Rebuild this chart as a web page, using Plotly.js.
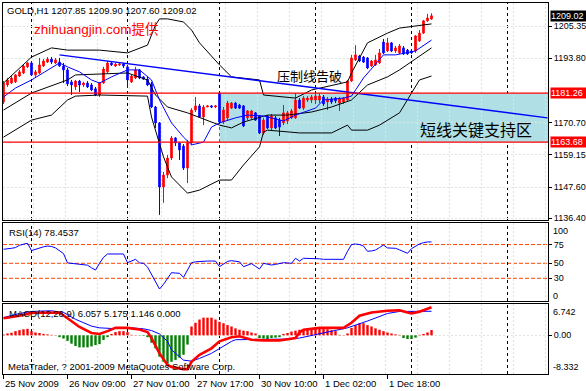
<!DOCTYPE html>
<html><head><meta charset="utf-8">
<script src="https://cdn.plot.ly/plotly-3.0.1.min.js"></script>
<style>html,body{margin:0;padding:0;background:#fff;overflow:hidden}#chart{width:586px;height:391px}</style>
</head><body><div id="chart"></div>
<script>
// ---------------- DATA ----------------
const symbol = 'GOLD,H1';
const open = [
1178.1,1184.2,1184.9,1185.3,1187.4,1188.5,1190.7,1192.1,1187.8,1188.5,
1191.0,1192.4,1193.5,1192.1,1192.4,1191.0,1189.6,1185.3,1183.5,1185.6,
1184.2,1184.9,1184.2,1182.8,1180.6,1184.9,1188.9,1192.1,1191.0,1191.4,
1191.7,1190.7,1185.3,1186.7,1189.6,1187.1,1186.3,1184.6,1176.3,1170.6,
1147.6,1151.9,1158.0,1165.2,1163.4,1162.3,1154.4,1163.4,1175.2,1176.7,
1172.7,1176.3,1176.7,1176.3,1181.3,1170.9,1172.4,1175.9,1177.7,1177.0,
1176.7,1172.4,1172.4,1174.2,1173.1,1167.0,1173.1,1168.8,1172.4,1171.6,
1170.6,1171.3,1172.4,1172.4,1178.8,1175.9,1178.8,1178.8,1178.8,1178.8,
1179.9,1178.1,1179.2,1179.5,1177.7,1178.1,1178.8,1185.6,1193.2,1194.6,
1194.2,1193.9,1191.0,1191.4,1192.1,1199.6,1196.4,1199.3,1196.4,1195.7,
1197.5,1196.7,1196.4,1196.4,1200.0,1202.8,1207.2,1207.85];
const high = [
1185.6,1186.7,1187.4,1188.1,1189.6,1191.4,1192.4,1192.8,1189.6,1193.9,
1193.5,1194.2,1194.2,1193.9,1193.9,1192.1,1190.3,1186.0,1186.0,1186.0,
1185.3,1185.6,1184.9,1183.5,1185.3,1190.7,1192.8,1192.4,1192.1,1192.1,
1192.1,1191.4,1188.1,1190.7,1189.9,1187.4,1187.1,1185.3,1176.7,1170.9,
1153.0,1159.1,1165.9,1165.5,1163.7,1163.0,1164.5,1175.9,1179.9,1177.4,
1177.0,1177.0,1177.0,1177.0,1181.7,1176.3,1178.5,1178.1,1178.1,1177.4,
1177.0,1175.2,1175.2,1174.5,1173.4,1172.4,1173.4,1173.8,1173.1,1172.4,
1177.0,1174.9,1175.6,1181.3,1179.5,1180.2,1180.2,1180.6,1181.3,1181.3,
1180.6,1179.9,1179.9,1179.9,1179.9,1179.9,1186.0,1195.0,1198.5,1195.0,
1194.6,1194.2,1193.2,1195.0,1197.1,1200.7,1201.1,1199.6,1198.2,1198.9,
1198.2,1197.1,1197.1,1202.1,1203.9,1207.5,1209.7,1209.90];
const low = [
1177.4,1183.5,1184.6,1184.9,1187.1,1188.1,1190.3,1187.4,1187.1,1188.1,
1190.7,1192.1,1191.7,1191.7,1190.7,1184.9,1183.8,1180.6,1182.4,1181.7,
1183.5,1183.1,1182.0,1180.2,1179.9,1184.6,1188.5,1191.0,1190.7,1191.0,
1190.3,1183.1,1184.9,1186.3,1186.3,1186.0,1183.8,1175.9,1168.8,1137.6,
1141.9,1150.8,1157.3,1162.3,1157.3,1153.7,1149.0,1162.7,1174.5,1172.4,
1169.8,1176.3,1175.9,1175.9,1170.2,1170.2,1171.3,1175.6,1175.6,1175.6,
1169.1,1171.6,1172.0,1171.3,1166.6,1166.3,1168.4,1168.1,1168.4,1165.9,
1169.8,1170.2,1172.0,1172.0,1175.6,1175.2,1178.1,1177.7,1177.4,1177.7,
1176.7,1175.2,1177.4,1177.7,1174.9,1177.4,1178.5,1185.3,1192.8,1192.4,
1192.1,1189.9,1190.7,1191.0,1191.7,1195.3,1196.0,1196.0,1195.7,1195.3,
1195.0,1195.0,1195.3,1195.7,1199.6,1202.5,1206.8,1207.60];
const close = [
1184.9,1186.0,1186.7,1187.8,1188.9,1191.0,1192.1,1187.8,1188.9,1191.4,
1192.8,1193.5,1192.4,1193.2,1191.0,1189.6,1184.6,1184.2,1185.6,1184.2,
1184.9,1183.5,1182.4,1180.6,1184.9,1189.9,1192.1,1191.4,1191.7,1191.7,
1191.0,1186.0,1187.4,1189.6,1186.7,1186.3,1184.2,1176.3,1170.6,1147.6,
1151.9,1158.0,1165.2,1163.4,1160.9,1154.4,1163.4,1175.2,1176.7,1172.7,
1176.3,1176.7,1176.3,1176.7,1170.9,1175.2,1177.7,1177.7,1175.9,1175.9,
1169.5,1174.9,1174.9,1171.6,1167.0,1171.6,1168.8,1173.1,1168.8,1169.1,
1174.2,1174.2,1174.9,1178.8,1175.9,1179.5,1179.5,1179.9,1180.2,1180.2,
1177.4,1179.2,1178.1,1178.5,1179.2,1179.5,1185.6,1193.9,1195.0,1192.8,
1192.4,1190.3,1192.8,1193.2,1195.7,1195.7,1199.3,1196.4,1197.5,1198.2,
1195.3,1195.3,1195.7,1201.8,1202.8,1207.2,1208.2,1209.02];

// Bollinger bands : bar index / price
const bbUpperX = [0,7,12,16,24,31,36,37,38,39,41,45,47,49,54,57,64,65,73,77,86,87,91,96,99,107];
const bbUpperY = [1184.9,1194.2,1197.5,1196.7,1196.7,1195.7,1198.5,1202.1,1205.7,1207.9,1207.9,1206.8,1203.9,1199.3,1191.4,1187.1,1186.0,1180.6,1179.5,1182.4,1185.3,1188.5,1199.3,1202.8,1204.6,1206.1];
const bbMidX = [0,7,16,18,31,36,38,41,46,51,54,57,60,66,71,77,82,87,91,96,99,107];
const bbMidY = [1175.2,1181.3,1186.0,1187.8,1188.5,1186.0,1180.6,1176.3,1174.2,1171.6,1169.8,1168.8,1170.9,1173.4,1173.4,1174.5,1176.3,1178.8,1184.2,1187.1,1189.6,1197.5];
const bbLowX = [0,7,12,16,18,24,36,37,40,42,46,49,54,57,60,64,65,66,74,82,86,87,91,94,99,102,104,107];
const bbLowY = [1165.5,1171.6,1173.4,1178.8,1180.2,1180.6,1180.2,1172.7,1158.4,1151.2,1145.4,1146.5,1150.1,1150.1,1155.5,1162.0,1167.3,1168.0,1167.0,1167.0,1169.8,1168.0,1168.0,1169.8,1174.2,1181.3,1186.0,1187.4];
// moving average (blue)
const maX = [0,3,7,12,14,16,19,22,24,27,31,34,37,39,42,45,47,50,52,54,58,61,65,70,73,78,80,85,87,90,95,98,103,107];
const maY = [1179.9,1183.1,1186.0,1190.3,1192.1,1190.7,1188.9,1186.0,1184.9,1187.1,1189.6,1189.6,1186.0,1178.8,1170.6,1165.5,1162.7,1163.7,1169.1,1170.6,1172.4,1173.4,1173.1,1171.3,1173.4,1175.9,1178.8,1179.5,1180.2,1186.7,1195.0,1195.0,1196.4,1200.3];
// resistance trend line
const trendX = [14, 136];
const trendY = [1195.0, 1172.4];
// support zone
const zoneTop = 1181.26, zoneBottom = 1163.68, zoneStart = 54;

// RSI(14)
const rsi = [
68.7,69,70,71,74,75.5,76.7,67,69,70,
72,73,72.5,70.5,67,63,50.5,50,50,49,
48.5,47.5,44,41,50,58,62.4,62.4,62.4,62.4,
62.4,50.8,53.5,55.3,50.5,50,45,35,25,15.7,
22,29,37.5,37,36.7,31.3,42,50.8,52,52.5,
53,53,53,53,45.5,49,52.5,53.5,53,52,
45.5,48,49.5,46,42.4,50,49,47.7,48.5,49.5,
50.8,50.5,50,56.7,53,56.7,56.7,56.7,56.5,56,
55.3,55.3,55.3,55.3,55.3,55.3,66,75,75.7,75,
73,66,66.5,67.7,71,74.4,70.5,70,70,68,
65.5,63.3,69.5,73,75.8,77.5,78.5,78.4537];
const rsiLevels = [75, 50, 30];

// MACD(12,26,9)
const hist = [
0.2,0.4,0.55,0.9,1.1,1.3,1.4,0.9,0.6,0.5,
0.3,0.2,0.1,0.05,-0.4,-0.7,-1.2,-1.8,-2.3,-2.6,
-2.6,-2.6,-2.4,-2.1,-1.9,-1.0,-0.4,0.3,0.7,0.9,
0.9,0.7,0.1,0.05,-0.05,-0.1,-0.4,-1.6,-2.8,-4.6,
-5.7,-6.1,-5.7,-5.3,-4.8,-4.2,-2.0,1.9,2.7,3.4,
3.8,3.8,3.8,3.4,2.9,2.6,2.2,1.9,1.5,1.2,
1.0,0.9,0.6,0.4,-0.6,-0.7,-0.8,-0.6,-0.5,-0.4,
0.3,0.5,0.8,1.0,1.2,1.2,1.5,1.5,1.6,1.5,
1.4,1.3,1.1,0.9,0.1,0.05,0.4,1.6,2.2,2.6,
2.6,2.2,1.9,1.5,1.2,0.9,0.6,0.4,0.2,0.1,
-0.6,-0.8,-0.8,-0.5,0.1,0.3,0.6,1.146];
const macdX = [0,4,7,14,16,19,22,24,26,28,31,34,36,37,39,41,42,45,46,47,49,52,54,57,59,62,65,69,73,74,75,79,85,87,89,92,96,99,101,102,104,107];
const macdY = [3.67,4.2,4.8,4.9,3.67,1.8,0.5,0.3,0.9,1.6,1.6,1.25,0.7,-0.6,-3.9,-6.4,-6.8,-7.3,-7.3,-5.7,-4.2,-2.8,-1.3,-0.4,-0.2,-0.95,-1.1,-1.1,-0.6,0.6,1.2,1.6,1.6,2.7,4.2,4.9,5.3,5.4,4.9,4.7,5.1,6.057];
const sigX = [0,4,7,12,15,18,22,24,27,30,32,35,37,39,41,42,44,45,47,49,52,54,57,58,62,66,71,74,79,86,91,96,99,107];
const sigY = [3.82,4.7,5.14,5.28,4.92,3.45,1.98,1.61,1.47,1.61,1.61,1.40,1.03,0.29,-1.31,-3.14,-4.61,-5.35,-5.57,-4.98,-3.88,-2.78,-1.31,-0.95,-0.95,-0.95,-0.81,-0.59,0.29,1.61,3.08,4.70,5.14,5.175];
const macdMin = -8.332, macdMax = 6.742;

// axes
const priceTicks = [1205.35, 1193.80, 1170.70, 1159.15, 1147.60, 1136.40];
const xLabelIdx = [0,16,32,48,64,80,96];
const xLabels = ['25 Nov 2009','26 Nov 09:00','27 Nov 01:00','27 Nov 17:00','30 Nov 10:00','1 Dec 02:00','1 Dec 18:00'];
const daySepIdx = [7,31,54,78,102,126];

// ---------------- STYLE / BUILD ----------------
const idx = open.map((_, i) => i);
const last = open.length - 1;
const BLUE = '#0000ff', RED = '#ff0000', GREEN = '#008000';
const GRID = '#d9e6d9';
const FONT = 'Liberation Sans, Arial, sans-serif';
const CJK = 'Noto Sans CJK SC, sans-serif';
const FS = 9.5;
const XR = [-0.125, 136.125];

const traces = [
  {type:'scatter', mode:'lines', x:bbUpperX, y:bbUpperY, line:{color:'black', width:1}, xaxis:'x', yaxis:'y'},
  {type:'scatter', mode:'lines', x:bbMidX, y:bbMidY, line:{color:'black', width:1}, xaxis:'x', yaxis:'y'},
  {type:'scatter', mode:'lines', x:bbLowX, y:bbLowY, line:{color:'black', width:1}, xaxis:'x', yaxis:'y'},
  {type:'scatter', mode:'lines', x:maX, y:maY, line:{color:BLUE, width:1}, xaxis:'x', yaxis:'y'},
  {type:'scatter', mode:'lines', x:trendX, y:trendY, line:{color:BLUE, width:1.3}, xaxis:'x', yaxis:'y'},
  {type:'candlestick', x:idx, open:open, high:high, low:low, close:close, xaxis:'x', yaxis:'y',
   increasing:{line:{color:RED, width:1}, fillcolor:RED},
   decreasing:{line:{color:BLUE, width:1}, fillcolor:BLUE}, whiskerwidth:0},
  {type:'scatter', mode:'lines', x:idx, y:rsi, line:{color:BLUE, width:1}, xaxis:'x2', yaxis:'y2'},
  {type:'bar', x:idx, y:hist, width:0.6, marker:{color:hist.map(v => v >= 0 ? RED : GREEN), line:{width:0}}, xaxis:'x3', yaxis:'y3'},
  {type:'scatter', mode:'lines', x:sigX, y:sigY, line:{color:BLUE, width:1}, xaxis:'x3', yaxis:'y3'},
  {type:'scatter', mode:'lines', x:macdX, y:macdY, line:{color:RED, width:2.6}, xaxis:'x3', yaxis:'y3'}
];

const xBase = {range:XR, showticklabels:false, ticks:'', showgrid:false, zeroline:false,
  showline:true, mirror:true, linecolor:'black', linewidth:1, fixedrange:true,
  minor:{showgrid:true, tickmode:'linear', tick0:-0.5, dtick:8, gridcolor:GRID, griddash:'2px,2px', gridwidth:1, ticks:''}};
const yBase = {side:'right', zeroline:false, showline:true, mirror:true, linecolor:'black', linewidth:1,
  ticks:'outside', ticklen:3, tickcolor:'black', tickfont:{family:FONT, size:9, color:'black'},
  showgrid:true, gridcolor:GRID, griddash:'2px,2px', gridwidth:1, fixedrange:true};

const shapes = [
  {type:'rect', xref:'x', yref:'y', x0:zoneStart, x1:XR[1], y0:zoneBottom, y1:zoneTop, fillcolor:'#b0e0e6', line:{width:0}, layer:'below'}
];
rsiLevels.forEach(v => shapes.push({type:'line', xref:'paper', yref:'y2', x0:0, x1:1, y0:v, y1:v,
  line:{color:'#ff4500', width:1, dash:'4px,2px'}, layer:'below'}));
['y','y2','y3'].forEach((ya, k) => {
  const xa = ['x','x2','x3'][k];
  daySepIdx.forEach(d => shapes.push({type:'line', xref:xa, yref:ya + ' domain', x0:d, x1:d, y0:0, y1:1,
    line:{color:'black', width:1, dash:'3px,3px'}, layer:'below'}));
});
shapes.push({type:'line', xref:'paper', yref:'y', x0:0, x1:1, y0:zoneTop, y1:zoneTop, line:{color:RED, width:1.2}, layer:'above'});
shapes.push({type:'line', xref:'paper', yref:'y', x0:0, x1:1, y0:zoneBottom, y1:zoneBottom, line:{color:RED, width:1.2}, layer:'above'});

const f2 = v => v.toFixed(2);
const annotations = [
  {xref:'paper', yref:'paper', x:0.0037, y:0.9811, xanchor:'left', yanchor:'middle', showarrow:false,
   text:symbol + ' ' + [open[last], high[last], low[last], close[last]].map(f2).join(' '),
   font:{family:FONT, size:FS, color:'black'}},
  {xref:'paper', yref:'paper', x:0.0532, y:0.9286, xanchor:'left', yanchor:'middle', showarrow:false,
   text:'zhihuangjin.com提供', font:{family:'Liberation Sans, Noto Sans CJK SC, sans-serif', size:13.5, color:RED}},
  {xref:'paper', yref:'paper', x:0.5624, y:0.8046, xanchor:'center', yanchor:'middle', showarrow:false,
   text:'压制线告破', font:{family:CJK, size:13, color:'black'}},
  {xref:'paper', yref:'paper', x:0.8688, y:0.6604, xanchor:'center', yanchor:'middle', showarrow:false,
   text:'短线关键支持区', font:{family:CJK, size:16, color:'black'}},
  {xref:'paper', yref:'paper', x:0.0073, y:0.3827, xanchor:'left', yanchor:'middle', showarrow:false,
   text:'RSI(14) ' + rsi[last].toFixed(4), font:{family:FONT, size:FS, color:'black'}},
  {xref:'paper', yref:'paper', x:0.0073, y:0.1644, xanchor:'left', yanchor:'middle', showarrow:false,
   text:'MACD(12,26,9) ' + [macdY[macdY.length-1], sigY[sigY.length-1], hist[last], 0].map(v => v.toFixed(3)).join(' '),
   font:{family:FONT, size:FS, color:'black'}},
  {xref:'paper', yref:'paper', x:0.0055, y:0.0208, xanchor:'left', yanchor:'middle', showarrow:false,
   text:'MetaTrader, ? 2001-2009 MetaQuotes Software Corp.', font:{family:FONT, size:FS, color:'black'}},
  // right-side boxes
  {xref:'paper', yref:'y', x:1, xshift:2, y:close[last], xanchor:'left', yanchor:'middle', showarrow:false,
   text:f2(close[last]), bgcolor:'black', font:{family:FONT, size:9, color:'white'}, borderpad:0, width:36, align:'left'},
  {xref:'paper', yref:'y', x:1, xshift:2, y:zoneTop, xanchor:'left', yanchor:'middle', showarrow:false,
   text:f2(zoneTop), bgcolor:RED, font:{family:FONT, size:9, color:'white'}, borderpad:0, width:36, align:'left'},
  {xref:'paper', yref:'y', x:1, xshift:2, y:zoneBottom, xanchor:'left', yanchor:'middle', showarrow:false,
   text:f2(zoneBottom), bgcolor:RED, font:{family:FONT, size:9, color:'white'}, borderpad:0, width:36, align:'left'},
  // RSI / MACD extreme labels
  {xref:'paper', yref:'y2', x:1, xshift:3, y:93, xanchor:'left', yanchor:'middle', showarrow:false, text:'100', font:{family:FONT, size:9}},
  {xref:'paper', yref:'y2', x:1, xshift:3, y:6.4, xanchor:'left', yanchor:'middle', showarrow:false, text:'0', font:{family:FONT, size:9}},
  {xref:'paper', yref:'y3', x:1, xshift:3, y:5.08, xanchor:'left', yanchor:'middle', showarrow:false, text:macdMax.toFixed(3), font:{family:FONT, size:9}},
  {xref:'paper', yref:'y3', x:1, xshift:3, y:-6.89, xanchor:'left', yanchor:'middle', showarrow:false, text:macdMin.toFixed(3), font:{family:FONT, size:9}}
];
xLabelIdx.forEach((d, k) => annotations.push({xref:'x3', yref:'paper', x:d, y:-0.0251, xanchor:'left', yanchor:'middle',
  xshift:-1, showarrow:false, text:xLabels[k], font:{family:FONT, size:FS, color:'black'}}));

const layout = {
  width:586, height:391, margin:{l:3, r:38, t:3, b:17, pad:0},
  paper_bgcolor:'white', plot_bgcolor:'white', showlegend:false, hovermode:false,
  font:{family:FONT, size:FS, color:'black'}, boxgap:0.45,
  xaxis:Object.assign({}, xBase, {anchor:'y', domain:[0,1], rangeslider:{visible:false}}),
  xaxis2:Object.assign({}, xBase, {anchor:'y2', domain:[0,1], matches:'x'}),
  xaxis3:Object.assign({}, xBase, {anchor:'y3', domain:[0,1], matches:'x',
    tickmode:'array', tickvals:xLabelIdx, ticks:'outside', ticklen:4, tickcolor:'black'}),
  yaxis:Object.assign({}, yBase, {anchor:'x', domain:[0.41509,1], range:[1135.77,1213.6],
    tickmode:'array', tickvals:priceTicks, ticktext:priceTicks.map(f2)}),
  yaxis2:Object.assign({}, yBase, {anchor:'x2', domain:[0.19677,0.40701], range:[-0.27,103.73],
    tickmode:'array', tickvals:rsiLevels, ticktext:rsiLevels.map(String), showgrid:false}),
  yaxis3:Object.assign({}, yBase, {anchor:'x3', domain:[0,0.18868], range:[macdMin, macdMax],
    tickmode:'array', tickvals:[0], ticktext:['0.00']}),
  shapes:shapes, annotations:annotations
};
Plotly.newPlot('chart', traces, layout, {staticPlot:true, displayModeBar:false});
</script></body></html>
